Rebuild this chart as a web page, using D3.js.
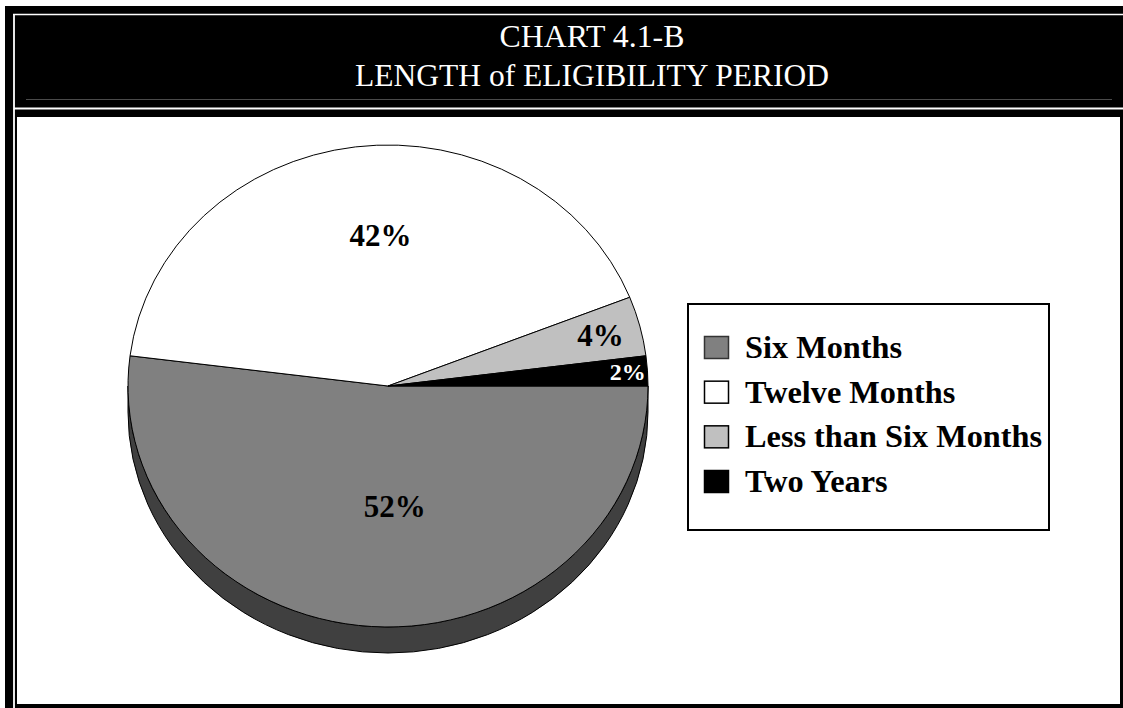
<!DOCTYPE html>
<html>
<head>
<meta charset="utf-8">
<script src="https://cdn.jsdelivr.net/npm/d3@7"></script>
<style>
  html, body { margin: 0; padding: 0; background: #fff; }
  svg { display: block; }
  text { font-family: "Liberation Serif", "Times New Roman", serif; }
</style>
</head>
<body>
<svg id="chart" width="1123" height="708"></svg>
<script>
// data
const categories = ["Six Months", "Twelve Months", "Less than Six Months", "Two Years"];
const values = [52, 42, 4, 2];
const sliceLabels = ["52%", "42%", "4%", "2%"];
const titleLines = ["CHART 4.1-B", "LENGTH of ELIGIBILITY PERIOD"];

// styles
const styles = {
  fills: ["#808080", "#ffffff", "#c0c0c0", "#000000"],
  labelColors: ["#000", "#000", "#000", "#fff"],
  labelSizes: [31, 31, 31, 24],
  labelRadius: [0.5, 0.63, 0.84, 0.92],
  labelDx: [15, 13, 1, 1],
  titleSizes: [31.8, 31.5],
  wall: "#404040"
};

const svg = d3.select("#chart");

// frame
svg.append("rect").attr("x", 5).attr("y", 6).attr("width", 1118).attr("height", 702).attr("fill", "#000");
svg.append("line").attr("x1", 13).attr("x2", 1123).attr("y1", 14.5).attr("y2", 14.5)
  .attr("stroke", "#fff").attr("stroke-width", 1.5);
svg.append("line").attr("x1", 14).attr("x2", 14).attr("y1", 14).attr("y2", 708)
  .attr("stroke", "#fff").attr("stroke-width", 1.8);
svg.append("line").attr("x1", 14).attr("x2", 1123).attr("y1", 108.5).attr("y2", 108.5)
  .attr("stroke", "#fff").attr("stroke-width", 1.8);
svg.append("line").attr("x1", 26).attr("x2", 1112).attr("y1", 99.5).attr("y2", 99.5)
  .attr("stroke", "#4a4a4a").attr("stroke-width", 1);
svg.append("rect").attr("x", 17).attr("y", 117).attr("width", 1103).attr("height", 587).attr("fill", "#fff");

// title
svg.selectAll(".title")
  .data(titleLines)
  .enter()
  .append("text")
  .attr("class", "title")
  .attr("x", 592)
  .attr("y", (d, i) => 47 + i * 39)
  .attr("text-anchor", "middle")
  .attr("fill", "#fff")
  .attr("font-size", (d, i) => styles.titleSizes[i])
  .text(d => d);

// pie
const cx = 388, cy = 386, R = 260, ry = 241, depth = 26;
const sy = ry / R;

const pie = d3.pie().sort(null).value(d => d)
  .startAngle(Math.PI / 2).endAngle(Math.PI / 2 + 2 * Math.PI);
const arcs = pie(values);
const arc = d3.arc().innerRadius(0).outerRadius(R);

const pieG = svg.append("g").attr("transform", "translate(" + cx + "," + cy + ")");
const flat = pieG.append("g").attr("transform", "scale(1," + sy + ")");

// side wall
const d2 = depth / sy;
const wall = d3.path();
wall.moveTo(-R, 0);
wall.lineTo(-R, d2);
wall.arc(0, d2, R, Math.PI, 0, true);
wall.lineTo(R, 0);
wall.arc(0, 0, R, 0, Math.PI, false);
wall.closePath();
flat.append("path")
  .attr("d", wall.toString())
  .attr("fill", styles.wall)
  .attr("stroke", "#000")
  .attr("stroke-width", 1)
  .attr("vector-effect", "non-scaling-stroke");

flat.selectAll(".slice")
  .data(arcs)
  .enter()
  .append("path")
  .attr("class", "slice")
  .attr("d", arc)
  .attr("fill", (d, i) => styles.fills[i])
  .attr("stroke", "#000")
  .attr("stroke-width", 1)
  .attr("vector-effect", "non-scaling-stroke");

pieG.selectAll(".lbl")
  .data(arcs)
  .enter()
  .append("text")
  .attr("class", "lbl")
  .attr("transform", function(d, i) {
    const r = R * styles.labelRadius[i];
    const c = d3.arc().innerRadius(r).outerRadius(r).centroid(d);
    return "translate(" + (c[0] + styles.labelDx[i]) + "," + (c[1] * sy) + ")";
  })
  .attr("dy", "0.34em")
  .attr("text-anchor", "middle")
  .attr("font-weight", "bold")
  .attr("font-size", (d, i) => styles.labelSizes[i])
  .attr("fill", (d, i) => styles.labelColors[i])
  .text((d, i) => sliceLabels[i]);

// legend
const legend = svg.append("g");
legend.append("rect")
  .attr("x", 688).attr("y", 304).attr("width", 361).attr("height", 226)
  .attr("fill", "#fff").attr("stroke", "#000").attr("stroke-width", 2);

const rowY = d3.scalePoint().domain(categories).range([358, 492]);

const rows = legend.selectAll(".row")
  .data(categories)
  .enter()
  .append("g")
  .attr("class", "row")
  .attr("transform", d => "translate(0," + rowY(d) + ")");

rows.append("rect")
  .attr("x", 704.5).attr("y", -21.5).attr("width", 24).attr("height", 22)
  .attr("fill", (d, i) => styles.fills[i])
  .attr("stroke", (d, i) => i === 0 ? "#333" : "#000")
  .attr("stroke-width", 1.5);

rows.append("text")
  .attr("x", 745)
  .attr("y", 0)
  .attr("font-size", 32.3)
  .attr("font-weight", "bold")
  .attr("fill", "#000")
  .text(d => d);
</script>
</body>
</html>
